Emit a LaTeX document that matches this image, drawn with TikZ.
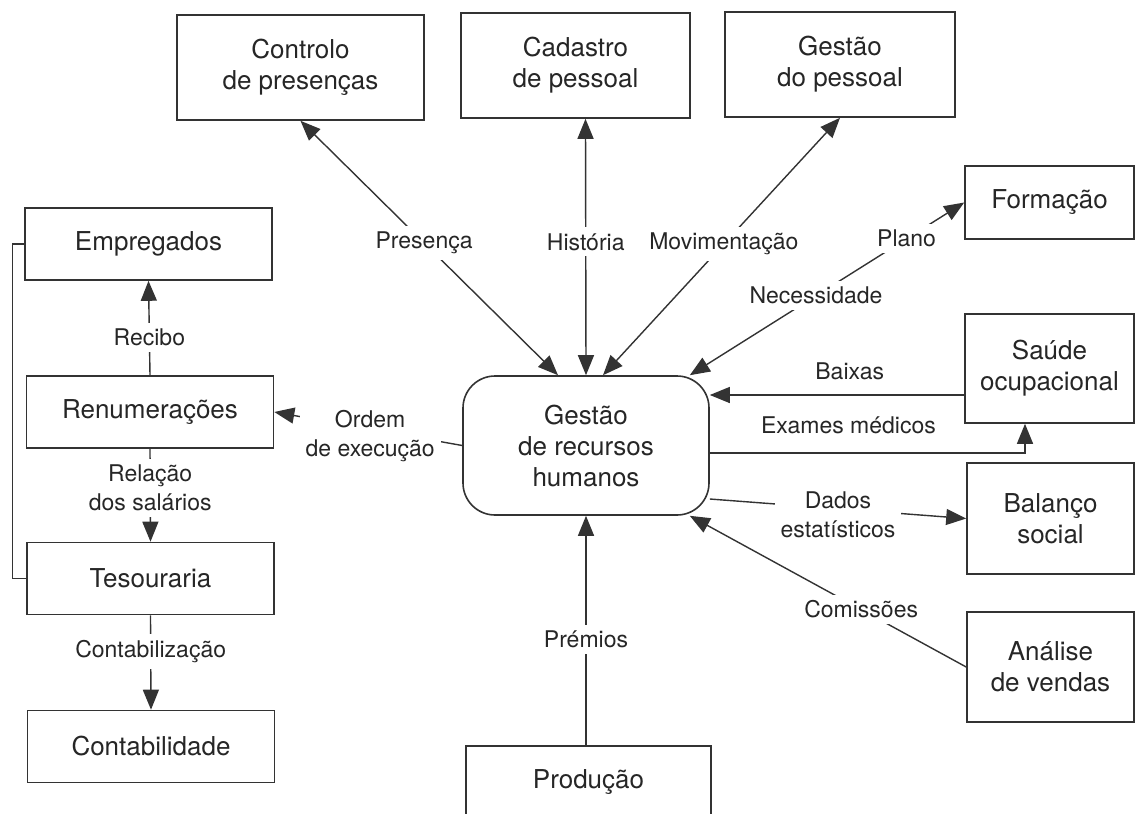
\documentclass[tikz,border=0pt]{standalone}
\usepackage{fontspec}
\setmainfont{TeX Gyre Heros}
\usetikzlibrary{arrows.meta}

\begin{document}
\begin{tikzpicture}[x=0.5pt,y=-0.5pt,
  box/.style={rectangle,draw=black!80,line width=0.8pt,inner sep=0pt,align=center,text=black!85,font=\fontsize{13}{15.5}\selectfont},
  lbox/.style={box,minimum width=123.5pt,minimum height=36pt},
  hub/.style={box,rounded corners=16pt},
  lbl/.style={fill=white,inner sep=3pt,align=center,text=black!85,font=\fontsize{11.5}{14.5}\selectfont},
  ln/.style={draw=black!80,line width=0.7pt},
  a/.style={ln,-{Triangle[length=10pt,width=8pt]}},
  aa/.style={ln,{Triangle[length=10pt,width=8pt]}-{Triangle[length=10pt,width=8pt]}}]

\useasboundingbox (0,0) rectangle (1136,814);

% centre
\node[hub,minimum width=123pt,minimum height=69.5pt] (hrm) at (586,445.5) {Gestão\\de recursos\\humanos};

% top row
\node[box,minimum width=123.5pt,minimum height=52.5pt] (ctrl) at (300.5,67.5) {Controlo\\de presenças};
\node[box,minimum width=114.5pt,minimum height=52.5pt] (cad) at (575.5,65.5) {Cadastro\\de pessoal};
\node[box,minimum width=115pt,minimum height=52.5pt] (gpes) at (840,64.5) {Gestão\\do pessoal};

% right column
\node[box,minimum width=84.5pt,minimum height=36.5pt] (form) at (1049.5,202.5) {Formação};
\node[box,minimum width=84.5pt,minimum height=54.5pt] (saude) at (1049.5,368.5) {Saúde\\ocupacional};
\node[box,minimum width=83.5pt,minimum height=55.5pt] (bal) at (1050.5,518.5) {Balanço\\social};
\node[box,minimum width=83.5pt,minimum height=55pt] (anal) at (1050.5,667) {Análise\\de vendas};

% left column
\node[lbox] (emp) at (148.5,244) {Empregados};
\node[lbox] (ren) at (150,412) {Renumerações};
\node[lbox] (tes) at (150.5,578.5) {Tesouraria};
\node[lbox] (cont) at (151,746.5) {Contabilidade};

% bottom
\node[box,minimum width=122.5pt,minimum height=36pt] (prod) at (588.5,782) {Produção};

% flows to and from the top
\draw[aa] (ctrl.south) -- node[lbl,pos=0.48]{Presença} ([xshift=-14pt]hrm.north);
\draw[aa] ([xshift=5pt]cad.south) -- node[lbl,pos=0.48]{História} (hrm.north);
\draw[aa] (gpes.south) -- node[lbl,pos=0.49]{Movimentação} ([xshift=8.5pt]hrm.north);
\draw[aa] (form.west) -- node[lbl,pos=0.21]{Plano} node[lbl,pos=0.54]{Necessidade} ([xshift=-10pt]hrm.north east);

% flows on the right
\draw[a] ([yshift=-13.25pt]saude.west) -- node[lbl,fill=none,above=4pt,pos=0.45]{Baixas} ([yshift=25.25pt]hrm.east);
\draw[a] ([yshift=-3.75pt]hrm.east) -| node[lbl,fill=none,above=6pt,pos=0.22]{Exames médicos} ([xshift=-12.25pt]saude.south);
\draw[a] ([yshift=-26.75pt]hrm.east) -- node[lbl,pos=0.5,yshift=-3pt]{Dados\\estatísticos} (bal.west);
\draw[a] (anal.west) -- node[lbl,pos=0.38]{Comissões} ([xshift=-10pt]hrm.south east);
\draw[a] ([xshift=-1.25pt]prod.north) -- node[lbl,pos=0.46]{Prémios} (hrm.south);

% payroll chain on the left
\draw[a] (hrm.west) -- node[lbl,pos=0.49,yshift=-3.5pt]{Ordem\\de execução} (ren.east);
\draw[a] (ren.north) -- node[lbl,pos=0.4]{Recibo} (emp.south);
\draw[a] (ren.south) -- node[lbl,pos=0.42]{Relação\\dos salários} (tes.north);
\draw[a] (tes.south) -- node[lbl,pos=0.385]{Contabilização} (cont.north);
\draw[ln] (emp.west) -- ++(-12,0) |- (tes.west);
\end{tikzpicture}
\end{document}
